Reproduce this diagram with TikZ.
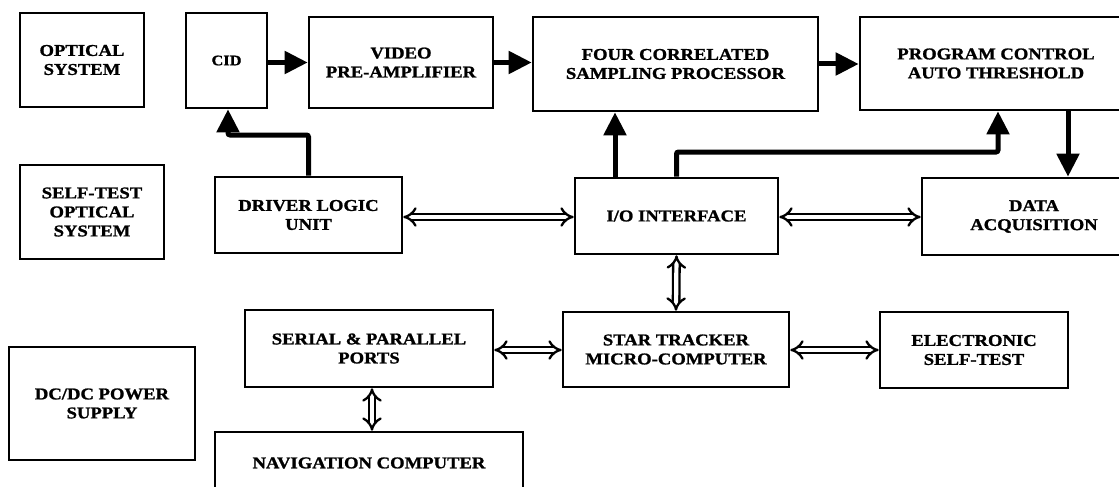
\documentclass[tikz,border=0pt]{standalone}
\usepackage{fontspec}
\setmainfont{Liberation Serif}[FakeStretch=1.13, BoldFeatures={FakeBold=1.2}]
\usetikzlibrary{arrows.meta}

\tikzset{
  blk/.style={draw=black, line width=2.6pt, fill=white, align=center,
    inner sep=0pt, font=\fontsize{16.5}{19}\selectfont\bfseries},
  fat/.style={line width=5pt, -{Triangle[length=23pt,width=22pt]}},
  bus/.style={line width=2.3pt, double=white, double distance=4.2pt,
    {Implies[length=8pt]}-{Implies[length=8pt]}},
}

\begin{document}
\begin{tikzpicture}[x=1pt, y=-1pt]
\useasboundingbox (0,0) rectangle (1119,487);
\clip (0,0) rectangle (1119,487);

% left column
\node[blk, minimum width=124pt, minimum height=94pt] (opt) at (82,60) {OPTICAL\\SYSTEM};
\node[blk, minimum width=144pt, minimum height=94pt] (sto) at (92,212) {SELF-TEST\\OPTICAL\\SYSTEM};
\node[blk, minimum width=186pt, minimum height=113pt] (dc) at (102,403.5) {DC/DC POWER\\SUPPLY};

% signal chain
\node[blk, minimum width=81pt, minimum height=95pt, font=\fontsize{14.5}{16}\selectfont\bfseries] (cid) at (226.5,60.5) {CID};
\node[blk, minimum width=184pt, minimum height=91pt] (vid) at (401,62.5) {VIDEO\\PRE-AMPLIFIER};
\node[blk, minimum width=285pt, minimum height=94pt] (four) at (675.5,64) {FOUR CORRELATED\\SAMPLING PROCESSOR};
\node[blk, minimum width=272pt, minimum height=93pt] (prog) at (996,63.5) {PROGRAM CONTROL\\AUTO THRESHOLD};

% middle row
\node[blk, minimum width=187pt, minimum height=76pt] (drv) at (308.5,215) {DRIVER LOGIC\\UNIT};
\node[blk, minimum width=203pt, minimum height=76pt] (io) at (676.5,216) {I/O INTERFACE};
\node[blk, minimum width=224pt, minimum height=77pt] (daq) at (1034,216.5) {DATA\\ACQUISITION};

% lower row
\node[blk, minimum width=248pt, minimum height=77pt] (ser) at (369,348.5) {SERIAL \& PARALLEL\\PORTS};
\node[blk, minimum width=226pt, minimum height=75pt] (star) at (676,349.5) {STAR TRACKER\\MICRO-COMPUTER};
\node[blk, minimum width=188pt, minimum height=76pt] (est) at (974,350) {ELECTRONIC\\SELF-TEST};
\node[blk, minimum width=308pt, minimum height=62pt] (nav) at (369,463) {NAVIGATION COMPUTER};

% routing points
\coordinate (kcid) at (228,135);
\coordinate (kfour) at (615,0);
\coordinate (kprog) at (998,152);
\coordinate (kdaq) at (1068,0);
\coordinate (kmid) at (0,217);
\coordinate (klow) at (0,350);
\coordinate (knav) at (372,0);

% data flow
\draw[fat] (cid.east |- vid.west) -- (vid.west);
\draw[fat] (vid.east) -- (vid.east -| four.west);
\draw[fat] (four.east) -- (four.east -| prog.west);
\draw[fat, rounded corners=2pt] (drv.north) |- (kcid) -- (kcid |- cid.south);
\draw[fat] (io.north -| kfour) -- (four.south -| kfour);
\draw[fat, rounded corners=2pt] (io.north) |- (kprog) -- (kprog |- prog.south);
\draw[fat] (prog.south -| kdaq) -- (daq.north -| kdaq);

% bidirectional buses
\draw[bus] (drv.east |- kmid) -- (io.west |- kmid);
\draw[bus] (io.east |- kmid) -- (daq.west |- kmid);
\draw[bus] (io.south) -- (star.north);
\draw[bus] (ser.east |- klow) -- (star.west |- klow);
\draw[bus] (star.east |- klow) -- (est.west |- klow);
\draw[bus] (ser.south -| knav) -- (nav.north -| knav);
\end{tikzpicture}
\end{document}
